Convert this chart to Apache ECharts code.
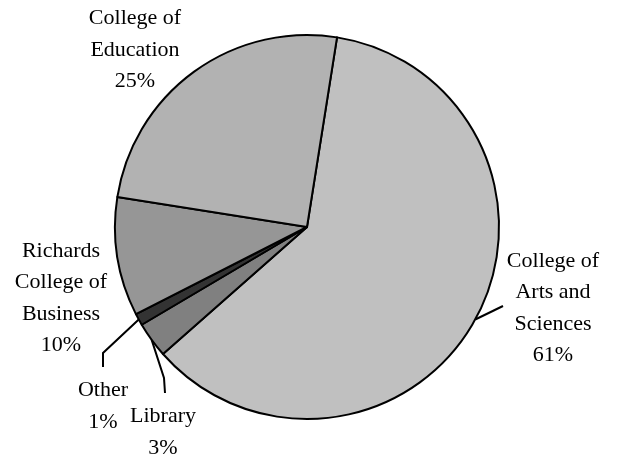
<!DOCTYPE html>
<html>
<head>
<meta charset="utf-8">
<script src="https://cdn.jsdelivr.net/npm/echarts@6/dist/echarts.min.js"></script>
<style>
  html, body { margin: 0; padding: 0; background: #ffffff; }
  #chart { width: 618px; height: 461px; }
</style>
</head>
<body>
<div id="chart"></div>
<script>
// Budget share by unit, drawn clockwise from just right of 12 o'clock
const units = [
  'College of\nArts and\nSciences',
  'Library',
  'Other',
  'Richards\nCollege of\nBusiness',
  'College of\nEducation'
];
const shares = [61, 3, 1, 10, 25];
const sliceColors = ['#c0c0c0', '#808080', '#333333', '#969696', '#b2b2b2'];

// Where each label block sits, and the bend points of its leader (if any)
const labelSpots = [
  { x: 553, y: 308, bends: [[503, 306]] },
  { x: 163, y: 432, bends: [[164, 378], [165, 393]] },
  { x: 103, y: 406, bends: [[103, 353], [103, 367]] },
  { x: 61, y: 298, bends: null },
  { x: 135, y: 50, bends: null }
];

const chart = echarts.init(document.getElementById('chart'), null, { renderer: 'canvas' });

const data = units.map((name, i) => ({
  name: name,
  value: shares[i],
  itemStyle: { color: sliceColors[i] },
  labelLine: { show: !!labelSpots[i].bends }
}));

chart.setOption({
  animation: false,
  backgroundColor: '#ffffff',
  series: [{
    type: 'pie',
    center: [307, 227],
    radius: 192,
    startAngle: 81,
    clockwise: true,
    avoidLabelOverlap: false,
    minAngle: 0,
    data: data,
    itemStyle: { borderColor: '#000000', borderWidth: 2 },
    emphasis: { disabled: true },
    label: {
      show: true,
      position: 'outside',
      formatter: '{b}\n{d}%',
      fontFamily: '"Liberation Serif", "Times New Roman", serif',
      fontSize: 22,
      lineHeight: 31.5,
      color: '#000000',
      align: 'center'
    },
    labelLine: {
      show: true,
      length: 5,
      length2: 5,
      smooth: false,
      lineStyle: { color: '#000000', width: 2 }
    },
    labelLayout: function (params) {
      const spot = labelSpots[params.dataIndex];
      const out = {
        x: spot.x,
        y: spot.y,
        align: 'center',
        verticalAlign: 'middle'
      };
      if (spot.bends && params.labelLinePoints) {
        out.labelLinePoints = [params.labelLinePoints[0]].concat(spot.bends);
      }
      return out;
    }
  }]
});
</script>
</body>
</html>
